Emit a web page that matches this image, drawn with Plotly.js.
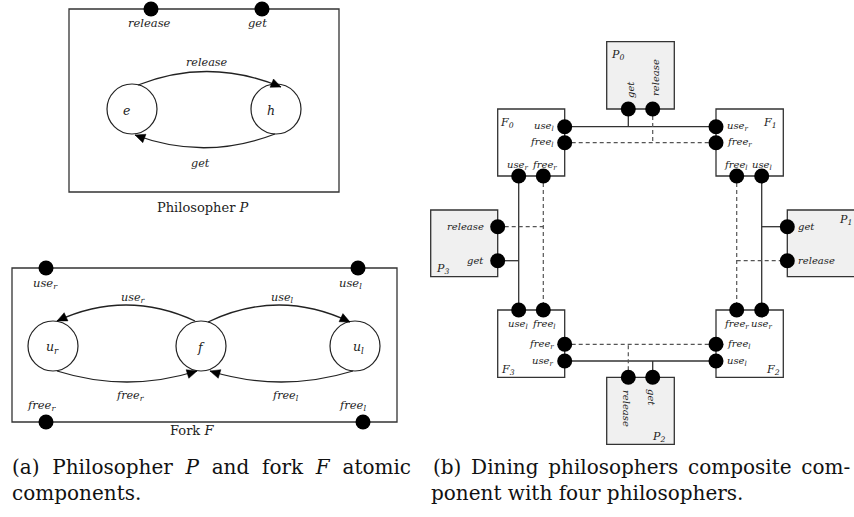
<!DOCTYPE html>
<html>
<head>
<meta charset="utf-8">
<script src="https://cdn.plot.ly/plotly-3.0.1.min.js"></script>
<style>html,body{margin:0;padding:0;background:#fff;}#chart{width:854px;height:517px;}</style>
</head>
<body>
<div id="chart"></div>
<script>
// ---------------- data ----------------
// boxes: name, x0, y0, x1, y1 (diagram coordinates)
const boxNames  = ["Philosopher", "Fork", "F0", "F1", "F3", "F2", "P0", "P2", "P3", "P1"];
const boxX0     = [69, 12, 497.7, 716, 497.7, 716, 606.7, 606.7, 430.7, 787.3];
const boxY0     = [9, 268, 109, 109, 310, 310, 41.7, 377.3, 210, 210];
const boxX1     = [339, 397, 564.7, 783.3, 564.7, 783.3, 674.3, 674.3, 497.7, 862];
const boxY1     = [192, 422, 176, 176, 377.3, 377.3, 109, 444.3, 276.7, 276.7];
const boxShaded = [false, false, false, false, false, false, true, true, true, true];

// states (circles)
const stateLabels = ["<i>e</i>", "<i>h</i>", "<i>u<sub>r</sub></i>", "<i>f</i>", "<i>u<sub>l</sub></i>"];
const stateX      = [132, 276, 53, 201, 355];
const stateY      = [109, 109, 346, 346, 346];
const stateLabelX = [126, 271, 52, 201, 358];
const stateLabelY = [110, 110, 347, 347, 347];
const stateR      = 25;

// transitions (quadratic curves): start, control, end, label
const transLabels = ["release", "get", "use<sub>r</sub>", "use<sub>l</sub>", "free<sub>r</sub>", "free<sub>l</sub>"];
const transSX = [138, 275, 195, 208, 57, 353];
const transSY = [85, 134, 321, 322, 371, 371];
const transCX = [209, 205, 126, 279, 127, 281];
const transCY = [57, 161, 289, 288, 393, 393];
const transEX = [281, 135, 57, 350, 197, 210];
const transEY = [87, 135, 321, 322, 371, 371];
const transLX = [207, 200, 133, 282, 130, 285];
const transLY = [62, 163, 298, 298, 396, 396];

// ports (black dots)
const portX = [151, 262, 46, 358, 46, 363,
  564.7, 564.7, 518.7, 543.3,
  716, 716, 736.7, 761.7,
  518.7, 543.3, 564.7, 564.7,
  736.7, 761.7, 716, 716,
  628.3, 652.7, 628.3, 652.7,
  497.7, 497.7, 787.3, 787.3];
const portY = [9, 9, 268, 268, 422, 422,
  126.7, 142.7, 176, 176,
  126.7, 142.7, 176, 176,
  310, 310, 344.3, 361,
  310, 310, 344.3, 361,
  109, 109, 377.3, 377.3,
  226.7, 260.7, 226.7, 260.7];

// connectors: solid (use/get) and dashed (free/release)
const solidX0 = [564.7, 628.3, 518.7, 497.7, 761.7, 761.7, 564.7, 652.7];
const solidY0 = [126.7, 109, 176, 260.7, 176, 226.7, 361, 377.3];
const solidX1 = [716, 628.3, 518.7, 518.7, 761.7, 787.3, 716, 652.7];
const solidY1 = [126.7, 126.7, 310, 260.7, 310, 226.7, 361, 361];
const dashX0  = [564.7, 652.7, 543.3, 497.7, 736.7, 736.7, 564.7, 628.3];
const dashY0  = [142.7, 109, 176, 226.7, 176, 260.7, 344.3, 377.3];
const dashX1  = [716, 652.7, 543.3, 543.3, 736.7, 787.3, 716, 628.3];
const dashY1  = [142.7, 142.7, 310, 226.7, 310, 260.7, 344.3, 344.3];

// atomic component port labels
const atomText = ["release", "get", "use<sub>r</sub>", "use<sub>l</sub>", "free<sub>r</sub>", "free<sub>l</sub>"];
const atomX = [149, 257, 45, 350, 41, 352];
const atomY = [23, 23, 283, 283, 405, 405];

// composite component names
const compText = ["P<sub>0</sub>", "F<sub>0</sub>", "F<sub>1</sub>", "P<sub>1</sub>", "P<sub>3</sub>", "F<sub>3</sub>", "F<sub>2</sub>", "P<sub>2</sub>"];
const compX = [617, 507, 770, 845, 442, 508, 773, 658];
const compY = [55, 123, 123, 220, 269, 370, 370, 437];

// composite port labels: text, x, y, anchor, angle
const lblText = [
  "use<sub>l</sub>", "free<sub>l</sub>", "use<sub>r</sub>", "free<sub>r</sub>",
  "use<sub>r</sub>", "free<sub>r</sub>", "free<sub>l</sub>", "use<sub>l</sub>",
  "use<sub>l</sub>", "free<sub>l</sub>", "free<sub>r</sub>", "use<sub>r</sub>",
  "free<sub>r</sub>", "use<sub>r</sub>", "free<sub>l</sub>", "use<sub>l</sub>",
  "release", "get", "get", "release",
  "get", "release", "release", "get"];
const lblX = [
  556, 556, 518, 544,
  725, 725, 736, 762,
  518, 544, 556, 556,
  736, 762, 725, 725,
  486, 486, 796, 796,
  630, 655, 627, 652];
const lblY = [
  126.7, 142.7, 165, 165,
  126.7, 142.7, 165, 165,
  324, 324, 344.3, 361,
  324, 324, 344.3, 361,
  226.7, 260.7, 226.7, 260.7,
  90, 78, 408, 397];
const lblAnchor = [
  "right", "right", "center", "center",
  "left", "left", "center", "center",
  "center", "center", "right", "right",
  "center", "center", "left", "left",
  "right", "right", "left", "left",
  "center", "center", "center", "center"];
const lblAngle = [
  0, 0, 0, 0, 0, 0, 0, 0,
  0, 0, 0, 0, 0, 0, 0, 0,
  0, 0, 0, 0,
  -90, -90, 90, 90];

// titles / captions (justified lines use wider word spacing)
const titleText = ["Philosopher <i>P</i>", "Fork <i>F</i>"];
const titleX = [203, 192];
const titleY = [207, 430];
const capText = [
  "(a)&nbsp; Philosopher&nbsp; <i>P</i>&nbsp; and&nbsp; fork&nbsp; <i>F</i>&nbsp; atomic",
  "components.",
  "(b)&#8198; Dining&#8198; philosophers&#8198; composite&#8198; com-",
  "ponent with four philosophers."];
const capX = [10, 10, 431, 429];
const capY = [467, 493, 467, 493];

// ---------------- build ----------------
const LINE = "#222";
const shapes = [];
for (let i = 0; i < boxNames.length; i++) {
  shapes.push({type: "rect", xref: "x", yref: "y", x0: boxX0[i], y0: boxY0[i], x1: boxX1[i], y1: boxY1[i],
    line: {color: "#333", width: 1.3}, fillcolor: boxShaded[i] ? "#f0f0f0" : "rgba(0,0,0,0)", layer: "below"});
}
for (let i = 0; i < stateX.length; i++) {
  shapes.push({type: "circle", xref: "x", yref: "y", x0: stateX[i] - stateR, x1: stateX[i] + stateR,
    y0: stateY[i] - stateR, y1: stateY[i] + stateR, line: {color: LINE, width: 1.2}});
}
for (let i = 0; i < transSX.length; i++) {
  shapes.push({type: "path", xref: "x", yref: "y",
    path: `M ${transSX[i]} ${transSY[i]} Q ${transCX[i]} ${transCY[i]} ${transEX[i]} ${transEY[i]}`,
    line: {color: LINE, width: 1.3}});
  const dx = transEX[i] - transCX[i], dy = transEY[i] - transCY[i];
  const L = Math.hypot(dx, dy), ux = dx / L, uy = dy / L;
  const len = 10, half = 4.5;
  const bx = transEX[i] - ux * len, by = transEY[i] - uy * len;
  const p1x = bx - uy * half, p1y = by + ux * half;
  const p2x = bx + uy * half, p2y = by - ux * half;
  shapes.push({type: "path", xref: "x", yref: "y",
    path: `M ${transEX[i]} ${transEY[i]} L ${p1x} ${p1y} L ${p2x} ${p2y} Z`,
    fillcolor: "#000", line: {color: "#000", width: 0.5}});
}
for (let i = 0; i < solidX0.length; i++) {
  shapes.push({type: "line", xref: "x", yref: "y", x0: solidX0[i], y0: solidY0[i], x1: solidX1[i], y1: solidY1[i],
    line: {color: "#333", width: 1.3}, layer: "below"});
}
for (let i = 0; i < dashX0.length; i++) {
  shapes.push({type: "line", xref: "x", yref: "y", x0: dashX0[i], y0: dashY0[i], x1: dashX1[i], y1: dashY1[i],
    line: {color: "#555", width: 1.2, dash: "4px,3px"}, layer: "below"});
}

const SERIF = "'DejaVu Serif'";
const annotations = [];
function ann(x, y, text, size, extra) {
  annotations.push(Object.assign({x: x, y: y, xref: "x", yref: "y", text: text, showarrow: false,
    font: {family: SERIF, size: size, color: "#222"}}, extra || {}));
}
for (let i = 0; i < stateLabels.length; i++) ann(stateLabelX[i], stateLabelY[i], stateLabels[i], 12.5);
for (let i = 0; i < transLabels.length; i++) ann(transLX[i], transLY[i], "<i>" + transLabels[i] + "</i>", 11.2);
for (let i = 0; i < atomText.length; i++) ann(atomX[i], atomY[i], "<i>" + atomText[i] + "</i>", 11.5);
for (let i = 0; i < compText.length; i++) ann(compX[i], compY[i], "<i>" + compText[i] + "</i>", 11);
for (let i = 0; i < lblText.length; i++) {
  ann(lblX[i], lblY[i], "<i>" + lblText[i] + "</i>", 10,
    {xanchor: lblAnchor[i], yanchor: "middle", textangle: lblAngle[i]});
}
for (let i = 0; i < titleText.length; i++) ann(titleX[i], titleY[i], titleText[i], 13);
for (let i = 0; i < capText.length; i++) {
  annotations.push({x: capX[i], y: capY[i], xref: "x", yref: "y", text: capText[i], xanchor: "left",
    showarrow: false, font: {family: SERIF, size: 20, color: "#111"}});
}

const traces = [{
  type: "scatter", mode: "markers", x: portX, y: portY, hoverinfo: "skip",
  marker: {color: "#000", size: 15, line: {width: 0}}, cliponaxis: false
}];

const layout = {
  width: 854, height: 517, margin: {l: 0, r: 0, t: 0, b: 0},
  paper_bgcolor: "#fff", plot_bgcolor: "#fff", showlegend: false,
  xaxis: {range: [0, 854], visible: false, fixedrange: true},
  yaxis: {range: [517, 0], visible: false, fixedrange: true},
  shapes: shapes, annotations: annotations
};
Plotly.newPlot("chart", traces, layout, {displayModeBar: false, staticPlot: true});
</script>
</body>
</html>
